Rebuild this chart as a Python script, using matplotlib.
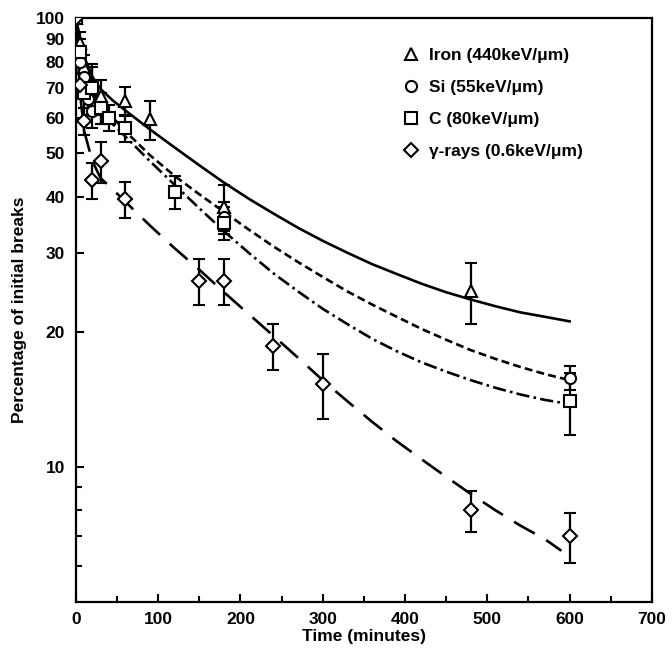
import matplotlib
matplotlib.use("Agg")
import matplotlib.pyplot as plt
from matplotlib.lines import Line2D
from matplotlib.ticker import FixedLocator, NullFormatter

plt.rcParams['font.family'] = ['Liberation Sans', 'DejaVu Sans']
plt.rcParams['font.weight'] = 'bold'
plt.rcParams['axes.labelweight'] = 'bold'

# measured points (time in minutes, % of initial breaks, error)
iron_t = [0, 5, 10, 20, 30, 60, 90, 180, 480]
iron_v = [100, 88, 78, 71, 67, 65.4, 59.5, 38, 24.6]
iron_e = [0, 5, 5, 8, 6, 5, 6, 4.5, 3.8]

si_t = [0, 5, 10, 15, 20, 30, 180, 600]
si_v = [100, 80, 74, 66, 62, 63, 36, 15.8]
si_e = [0, 5, 5, 5, 5, 5, 3, 1]

c_t = [0, 5, 10, 20, 30, 40, 60, 120, 180, 600]
c_v = [100, 84, 68, 70, 63, 60, 57, 41, 35, 14]
c_e = [0, 6, 5, 8, 5, 4, 4, 3.5, 3, 2.2]

g_t = [0, 5, 10, 20, 30, 60, 150, 180, 240, 300, 480, 600]
g_v = [100, 71, 59, 43.5, 48, 39.5, 26, 26, 18.6, 15.3, 8.0, 7.0]
g_e = [0, 4, 4, 4, 5, 3.6, 3, 3, 2.2, 2.5, 0.85, 0.9]

# fitted curves
fit_t = [0, 10, 20, 30, 45, 60, 90, 120, 150, 180, 210, 240, 270, 300,
         330, 360, 390, 420, 450, 480, 510, 540, 570, 600]
iron_fv = [100, 82, 74, 69.5, 65.5, 62.3, 56.5, 51.5, 47, 43, 39.6, 36.7, 34.1, 31.9,
           30.0, 28.3, 26.9, 25.6, 24.5, 23.6, 22.8, 22.1, 21.6, 21.1]
si_fv = [100, 78, 70, 65, 60, 56, 49.5, 44.5, 40.5, 37, 33.8, 31, 28.6, 26.5,
         24.6, 23, 21.6, 20.3, 19.2, 18.2, 17.4, 16.7, 16.1, 15.6]
c_fv = [100, 76, 68, 63, 58, 54.5, 48, 42.5, 37.7, 33.5, 30, 27, 24.6, 22.5,
        20.8, 19.3, 18.1, 17.1, 16.3, 15.6, 15.0, 14.5, 14.1, 13.8]
g_ft = [0, 5, 10, 20, 30, 45, 60, 90, 120, 150, 180, 210, 240, 270, 300,
        330, 360, 390, 420, 450, 480, 510, 540, 570, 590]
g_fv = [100, 68, 56, 48, 44, 41.5, 39, 34.5, 30.7, 27.5, 24.5, 21.9, 19.6, 17.5, 15.6,
        14, 12.6, 11.4, 10.4, 9.5, 8.7, 8.0, 7.4, 6.9, 6.5]

labels = ['Iron (440keV/\u03bcm)', 'Si (55keV/\u03bcm)', 'C (80keV/\u03bcm)',
          '\u03b3-rays (0.6keV/\u03bcm)']

fig = plt.figure(figsize=(6.72, 6.5), dpi=100)
ax = fig.add_axes([0.113, 0.074, 0.857, 0.898])

ax.plot(fit_t, iron_fv, color='black', lw=1.9, ls='-')
ax.plot(fit_t, si_fv, color='black', lw=1.9, ls=(0, (3, 1.6)))
ax.plot(fit_t, c_fv, color='black', lw=1.9, ls=(0, (5, 1.6, 1, 1.6)))
ax.plot(g_ft, g_fv, color='black', lw=1.9, ls=(0, (9, 5)))

series = [(iron_t, iron_v, iron_e, '^'), (si_t, si_v, si_e, 'o'),
          (c_t, c_v, c_e, 's'), (g_t, g_v, g_e, 'D')]
for t, v, e, m in series:
    ax.errorbar(t, v, yerr=e, fmt=m, ms=8 if m != 'D' else 7, mfc='white', mec='black',
                mew=1.5, ecolor='black', elinewidth=1.6, capsize=4, capthick=1.6,
                color='black', zorder=3)

ax.set_yscale('log')
ax.set_xlim(0, 700)
ax.set_ylim(5, 100)
ax.set_xticks(range(0, 701, 100))
ax.xaxis.set_minor_locator(FixedLocator(range(50, 700, 100)))
yt = [10, 20, 30, 40, 50, 60, 70, 80, 90, 100]
ax.yaxis.set_major_locator(FixedLocator(yt))
ax.set_yticklabels([str(y) for y in yt])
ax.yaxis.set_minor_locator(FixedLocator([6, 7, 8, 9]))
ax.yaxis.set_minor_formatter(NullFormatter())
ax.tick_params(which='both', direction='in', labelsize=12.5, width=1.5)
ax.tick_params(which='major', length=6)
ax.tick_params(which='minor', length=4)
ax.tick_params(axis='y', pad=8)
ax.tick_params(axis='x', pad=7)
for s in ax.spines.values():
    s.set_linewidth(1.6)

ax.set_xlabel('Time (minutes)', fontsize=12.5, labelpad=1.5)
ax.set_ylabel('Percentage of initial breaks', fontsize=12.5, labelpad=6)

handles = [Line2D([], [], ls='none', marker=m, ms=8 if m != 'D' else 7, mfc='white',
                  mec='black', mew=1.5) for m in ['^', 'o', 's', 'D']]
ax.legend(handles, labels, loc='upper left', bbox_to_anchor=(0.54, 0.976), frameon=False,
          fontsize=12.5, handlelength=1.0, handletextpad=0.5, labelspacing=0.97)

fig.savefig('out.png', dpi=100)
